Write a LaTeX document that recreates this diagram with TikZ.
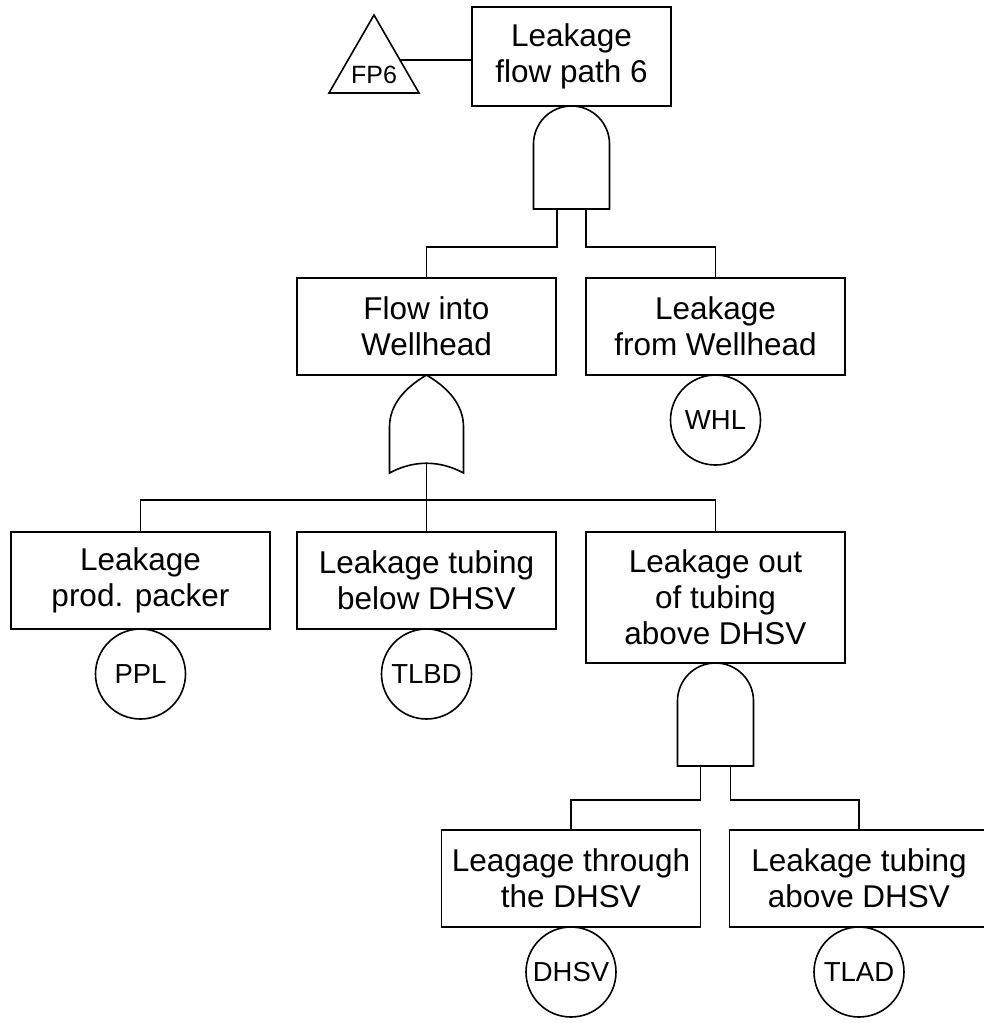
\documentclass[tikz,border=0pt]{standalone}
\usepackage{fontspec}
\setmainfont{Liberation Sans}
\usetikzlibrary{positioning,shapes.geometric,calc}

\begin{document}
\begin{tikzpicture}[
		x = 1pt, y = 1pt,
		line width = 1.6pt,
		node distance = 0pt,
		MyEvent/.style={draw, minimum width=259pt, minimum height=97pt, outer sep=0pt,
			inner sep=4pt, align=center, font=\fontsize{31.5}{36}\selectfont},
		MyBasic/.style={draw, circle, minimum size=90pt, inner sep=0pt, outer sep=0pt,
			font=\fontsize{27.5}{30}\selectfont},
		MyGate/.style={inner sep=0pt, outer sep=0pt, minimum width=76pt, minimum height=103pt},
		MyTransfer/.style={draw, regular polygon, regular polygon sides=3, outer sep=0pt,
			minimum size=104pt, inner sep=0pt, font=\fontsize{25}{30}\selectfont},
		]
		\useasboundingbox (0,0) rectangle (984,-1023);
		
		\node [MyEvent, minimum width=199pt, minimum height=99pt] (top) at (571.5,-56.5) {Leakage\\flow path 6};
		\node [MyTransfer] (fp6) at (374,-67) {\makebox[0pt]{\raisebox{-16pt}[0pt][0pt]{FP6}}};
		\coordinate (fp6r) at ($(fp6.corner 1)!0.575!(fp6.corner 3)$);
		\draw (fp6r) -- (fp6r -| top.west);
		
		\node [MyGate, below=of top] (and1) {};
		\draw (and1.south west) -- ++(0,65) arc[start angle=180, end angle=0, radius=38]
			-- (and1.south east) -- cycle;
		
		\node [MyEvent, anchor=north] (flow) at (426.5,-278) {Flow into\\Wellhead};
		\node [MyEvent, right=30pt of flow] (wh) {Leakage\\from Wellhead};
		\node [MyBasic, below=of wh] (whl) {WHL};
		\draw ([xshift=-14.5pt]and1.south) -- ++(0,-38) -| (flow.north);
		\draw ([xshift=14.5pt]and1.south) -- ++(0,-38) -| (wh.north);
		
		\node [MyGate, minimum width=74pt, minimum height=89pt, below=of flow] (or1) {};
		\draw ([yshift=-9pt]or1.south west) -- ([yshift=37pt]or1.south west)
			.. controls ++(0,22) and ([xshift=-22pt,yshift=-13pt]or1.north) .. (or1.north)
			.. controls ([xshift=22pt,yshift=-13pt]or1.north) and ([yshift=59pt]or1.south east) .. ([yshift=37pt]or1.south east)
			-- ([yshift=-9pt]or1.south east)
			.. controls ([xshift=-24pt,yshift=4pt]or1.south east) and ([xshift=24pt,yshift=4pt]or1.south west) .. cycle;
		
		\node [MyEvent, anchor=north] (ppl) at (140.5,-532) {Leakage\\prod. packer};
		\node [MyEvent, right=27pt of ppl.north east, anchor=north west] (tlb) {Leakage tubing\\below DHSV};
		\node [MyEvent, minimum height=131pt, right=30pt of tlb.north east, anchor=north west] (out) {Leakage out\\of tubing\\above DHSV};
		\node [MyBasic, below=of ppl] (pplc) {PPL};
		\node [MyBasic, below=of tlb] (tlbd) {TLBD};
		\draw (or1.south) -- (tlb.north);
		\draw (ppl.north) -- ++(0,32) -| (out.north);
		
		\node [MyGate, below=of out] (and2) {};
		\draw (and2.south west) -- ++(0,65) arc[start angle=180, end angle=0, radius=38]
			-- (and2.south east) -- cycle;
		
		\node [MyEvent, anchor=north] (thr) at (571,-830) {Leagage through\\the DHSV};
		\node [MyEvent, right=29pt of thr] (abv) {Leakage tubing\\above DHSV};
		\node [MyBasic, below=of thr] (dhsv) {DHSV};
		\node [MyBasic, below=of abv] (tlad) {TLAD};
		\draw ([xshift=-15pt]and2.south) -- ++(0,-34) -| (thr.north);
		\draw ([xshift=15pt]and2.south) -- ++(0,-34) -| (abv.north);
		
\end{tikzpicture}
\end{document}
